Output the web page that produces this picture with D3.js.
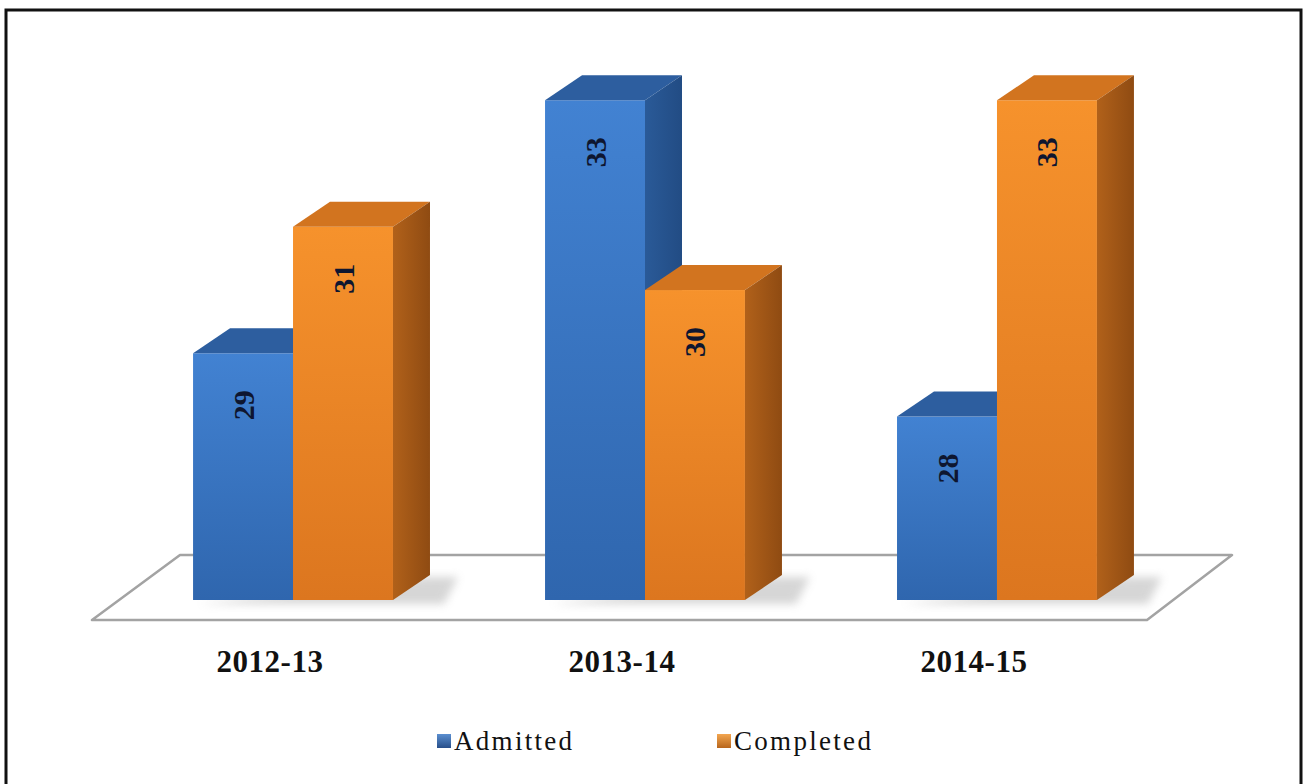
<!DOCTYPE html>
<html>
<head>
<meta charset="utf-8">
<script src="https://cdn.jsdelivr.net/npm/d3@7"></script>
<style>
  body { margin: 0; background: #fff; }
</style>
</head>
<body>
<div id="chart"></div>
<script>
var categories = ['2012-13', '2013-14', '2014-15'];
var seriesNames = ['Admitted', 'Completed'];
var admitted = [29, 33, 28];
var completed = [31, 30, 33];

var width = 1305;
var height = 784;
var depthX = 37, depthY = -25;   // oblique offset of the 3d bars

var canvas = d3.select('#chart')
  .append('svg')
  .attr('width', width)
  .attr('height', height);

var defs = canvas.append('defs');
function grad(id, c1, c2, horizontal){
  var g = defs.append('linearGradient').attr('id', id)
    .attr('x1', 0).attr('y1', 0)
    .attr('x2', horizontal ? 1 : 0).attr('y2', horizontal ? 0 : 1);
  g.append('stop').attr('offset', '0%').attr('stop-color', c1);
  g.append('stop').attr('offset', '100%').attr('stop-color', c2);
}
grad('frontA', '#4282d2', '#2f66ae');
grad('frontC', '#f6922c', '#dc761f');
grad('sideA', '#2a5a98', '#224c84', true);
grad('sideC', '#b1611a', '#8f4b12', true);
grad('legA', '#5b8fd0', '#284f8a');
grad('legC', '#f3a650', '#b8661c');
defs.append('filter').attr('id', 'blur')
  .attr('x', '-20%').attr('y', '-50%').attr('width', '140%').attr('height', '200%')
  .append('feGaussianBlur').attr('stdDeviation', 4);

var colors = {
  Admitted: { front: 'url(#frontA)', top: '#2d5e9f', side: 'url(#sideA)', legend: 'url(#legA)' },
  Completed: { front: 'url(#frontC)', top: '#d2741f', side: 'url(#sideC)', legend: 'url(#legC)' }
};

// outer frame
canvas.append('rect')
  .attr('x', 6).attr('y', 10)
  .attr('width', 1295).attr('height', 790)
  .attr('fill', '#fff')
  .attr('stroke', '#111')
  .attr('stroke-width', 3);

// scales
var xScale = d3.scaleBand().domain(categories).range([41, 1249]).padding(0.432);
var xInner = d3.scaleBand().domain(seriesNames).range([0, xScale.bandwidth()]);
var yScale = d3.scaleLinear().domain([25.1, 34]).range([600, 37]);
var base = yScale(25.1);

// floor
var floor = [[92, base + 20], [1147, base + 20], [1232, base - 45], [180, base - 45]];
canvas.append('polygon')
  .attr('points', floor.map(function(p){ return p.join(','); }).join(' '))
  .attr('fill', '#fff')
  .attr('stroke', '#a3a3a3')
  .attr('stroke-width', 2.5)
  .attr('stroke-linejoin', 'round');

var data = [];
categories.forEach(function(c, i){
  data.push({ cat: c, series: 'Admitted', value: admitted[i] });
  data.push({ cat: c, series: 'Completed', value: completed[i] });
});

// soft shadow on the floor
canvas.append('g')
  .selectAll('polygon')
  .data(categories)
  .enter()
  .append('polygon')
  .attr('points', function(c){
    var x0 = xScale(c), x1 = x0 + xScale.bandwidth() + depthX;
    return [[x0 + 6, base + 4], [x1 + 14, base + 4], [x1 + 28, base + depthY + 2], [x1 - 4, base + depthY + 2]]
      .map(function(p){ return p.join(','); }).join(' ');
  })
  .attr('fill', '#a5a5a5')
  .attr('opacity', 0.45)
  .attr('filter', 'url(#blur)');

// bars: front, top and side face, drawn left to right
var bars = canvas.append('g')
  .selectAll('g')
  .data(data)
  .enter()
  .append('g');

bars.append('rect')
  .attr('x', function(d){ return xScale(d.cat) + xInner(d.series); })
  .attr('y', function(d){ return yScale(d.value); })
  .attr('width', xInner.bandwidth())
  .attr('height', function(d){ return base - yScale(d.value); })
  .attr('fill', function(d){ return colors[d.series].front; });

bars.append('polygon')
  .attr('points', function(d){
    var x = xScale(d.cat) + xInner(d.series), y = yScale(d.value), w = xInner.bandwidth();
    return [[x, y], [x + w, y], [x + w + depthX, y + depthY], [x + depthX, y + depthY]]
      .map(function(p){ return p.join(','); }).join(' ');
  })
  .attr('fill', function(d){ return colors[d.series].top; });

bars.append('polygon')
  .attr('points', function(d){
    var x = xScale(d.cat) + xInner(d.series) + xInner.bandwidth(), y = yScale(d.value);
    return [[x, y], [x + depthX, y + depthY], [x + depthX, base + depthY], [x, base]]
      .map(function(p){ return p.join(','); }).join(' ');
  })
  .attr('fill', function(d){ return colors[d.series].side; });

// value labels, rotated
bars.append('text')
  .text(function(d){ return d.value; })
  .attr('transform', function(d){
    var cx = xScale(d.cat) + xInner(d.series) + xInner.bandwidth() / 2;
    return 'translate(' + cx + ',' + (yScale(d.value) + 37) + ')rotate(-90)';
  })
  .attr('text-anchor', 'end')
  .attr('dy', '0.35em')
  .style('font-family', '"Liberation Serif", "Times New Roman", serif')
  .style('font-weight', 'bold')
  .style('font-size', '30px')
  .style('fill', '#0e1630');

// category labels
canvas.append('g')
  .selectAll('text')
  .data(categories)
  .enter()
  .append('text')
  .text(function(d){ return d; })
  .attr('x', function(d){ return xScale(d) + xScale.bandwidth() / 2 - 23; })
  .attr('y', 672)
  .attr('text-anchor', 'middle')
  .style('font-family', '"Liberation Serif", "Times New Roman", serif')
  .style('font-weight', 'bold')
  .style('font-size', '31px')
  .style('letter-spacing', '0.5px')
  .style('fill', '#111');

// legend
var legendX = d3.scaleOrdinal().domain(seriesNames).range([437, 717]);
var legend = canvas.append('g')
  .selectAll('g')
  .data(seriesNames)
  .enter()
  .append('g')
  .attr('transform', function(d){ return 'translate(' + legendX(d) + ',741)'; });
legend.append('rect')
  .attr('x', 0).attr('y', -7)
  .attr('width', 14).attr('height', 14)
  .attr('fill', function(d){ return colors[d].legend; });
legend.append('text')
  .text(function(d){ return d; })
  .attr('x', 17)
  .attr('y', 9)
  .style('font-family', '"Liberation Serif", "Times New Roman", serif')
  .style('font-size', '27px')
  .style('letter-spacing', '2.3px')
  .style('fill', '#111');
</script>
</body>
</html>
